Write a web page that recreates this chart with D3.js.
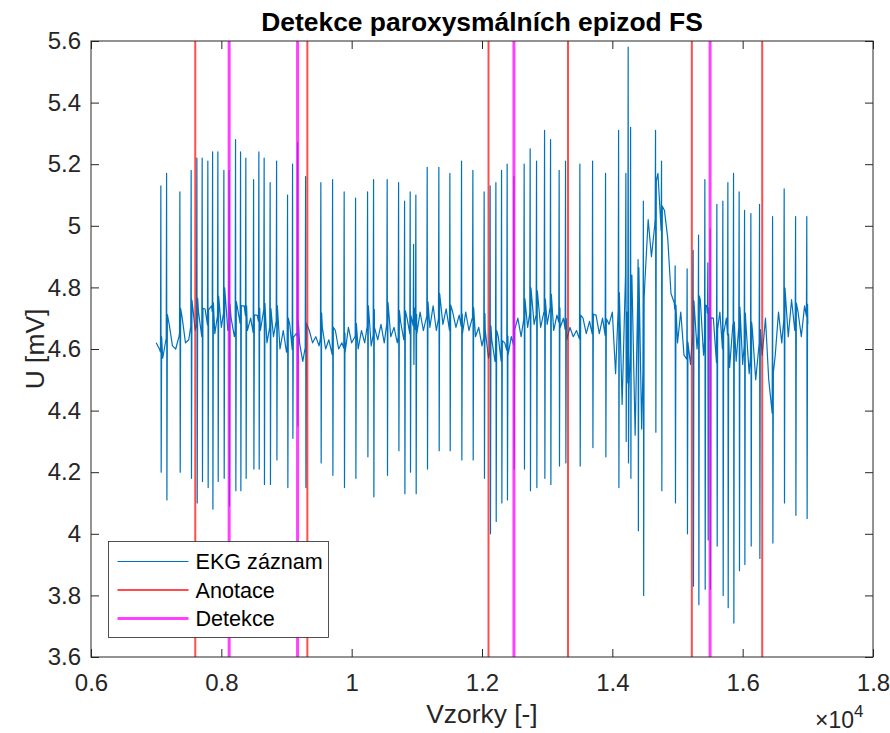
<!DOCTYPE html>
<html>
<head>
<meta charset="utf-8">
<script src="https://cdn.jsdelivr.net/npm/d3@7"></script>
<style>
  body { margin: 0; background: #fff; }
  svg { font-family: "Liberation Sans", Arial, Helvetica, sans-serif; }
</style>
</head>
<body>
<svg id="chart"></svg>
<script>
// beats: [sample, R peak (mV), S trough (mV)]
const beats = [
  [7074,5.13,4.20],[7162,5.17,4.11],[7366,5.11,4.20],[7539,5.18,4.18],[7627,5.22,4.10],
  [7708,5.22,4.17],[7795,5.21,4.15],[7868,5.24,4.08],[7949,5.24,4.17],[8041,5.18,4.18],
  [8122,5.18,4.09],[8220,5.28,4.14],[8297,5.24,4.14],[8378,5.22,4.18],[8497,5.15,4.21],
  [8578,5.24,4.21],[8659,5.22,4.16],[8751,5.14,4.16],[8850,5.21,4.24],[9018,5.10,4.15],
  [9095,5.20,4.31],[9172,5.27,4.35],[9295,5.16,4.15],[9529,5.14,4.23],[9709,5.15,4.19],
  [9887,5.11,4.15],[10062,5.09,4.18],[10246,5.11,4.25],[10338,5.15,4.12],[10547,5.15,4.19],
  [10722,5.14,4.27],[10814,5.08,4.13],[10900,5.11,4.20],[10952,4.94,4.55],[10987,5.10,4.13],
  [11161,5.19,4.21],[11340,5.19,4.27],[11509,5.17,4.27],[11688,5.21,4.24],[11862,5.18,4.24],
  [12035,5.11,4.18],[12127,5.13,4.00],[12215,5.14,4.04],[12302,5.18,4.10],[12388,5.20,4.11],
  [12491,5.16,4.21],[12649,5.20,4.21],[12741,5.25,4.14],[12839,5.21,4.15],[12962,5.31,4.18],
  [13054,5.28,4.16],[13186,5.18,4.22],[13284,5.21,4.23],[13504,5.20,4.22],[13699,5.21,4.28],
  [13898,5.17,4.25],[14098,5.31,4.15],[14210,5.17,4.30],[14245,5.58,4.23],[14282,5.32,4.18],
  [14397,4.89,4.01],[14478,5.08,3.80],[14665,5.31,4.33],[14757,5.21,4.14],[14966,4.87,4.10],
  [15150,4.86,4.00],[15242,4.92,3.83],[15325,4.97,3.77],[15422,5.15,3.82],[15468,4.88,3.98],
  [15503,4.99,3.82],[15606,5.07,3.96],[15698,5.08,3.80],[15775,5.14,3.76],[15862,5.17,3.71],
  [15948,5.11,3.88],[16031,5.05,3.90],[16128,5.04,3.96],[16261,5.07,3.92],[16461,5.03,3.97],
  [16639,5.12,4.10],[16814,5.03,4.06],[16986,5.03,4.05]
];

// baseline (fibrillation wave) between beats: [sample, mV]
const baseline = [
  [7000,4.62],[7050,4.60],[7100,4.57],[7150,4.63],[7200,4.68],[7250,4.61],[7300,4.60],[7350,4.64],
  [7400,4.70],[7450,4.62],[7500,4.63],[7550,4.70],[7600,4.66],[7650,4.72],[7700,4.64],[7750,4.73],
  [7800,4.66],[7850,4.74],[7900,4.65],[7950,4.72],[8000,4.67],[8050,4.74],[8100,4.66],[8150,4.70],
  [8200,4.64],[8250,4.73],[8300,4.67],[8350,4.74],[8400,4.66],[8450,4.70],[8500,4.64],[8550,4.71],
  [8600,4.66],[8650,4.73],[8700,4.62],[8750,4.68],[8800,4.64],[8850,4.70],[8900,4.60],[8950,4.66],
  [9000,4.59],[9050,4.68],[9100,4.57],[9150,4.65],[9200,4.62],[9250,4.56],[9300,4.62],[9350,4.66],
  [9400,4.62],[9450,4.64],[9500,4.61],[9550,4.67],[9600,4.60],[9650,4.63],[9700,4.58],[9750,4.66],
  [9800,4.60],[9850,4.62],[9900,4.59],[9950,4.67],[10000,4.62],[10050,4.64],[10100,4.60],[10150,4.66],
  [10200,4.62],[10250,4.69],[10300,4.61],[10350,4.67],[10400,4.63],[10450,4.68],[10500,4.62],[10550,4.70],
  [10600,4.64],[10650,4.67],[10700,4.62],[10750,4.69],[10800,4.63],[10850,4.70],[10900,4.64],[10950,4.68],
  [11000,4.65],[11050,4.72],[11100,4.66],[11150,4.71],[11200,4.67],[11250,4.74],[11300,4.66],[11350,4.72],
  [11400,4.68],[11450,4.73],[11500,4.66],[11550,4.72],[11600,4.67],[11650,4.71],[11700,4.65],[11750,4.72],
  [11800,4.66],[11850,4.70],[11900,4.64],[11950,4.67],[12000,4.61],[12050,4.66],[12100,4.57],[12150,4.63],
  [12200,4.56],[12250,4.64],[12300,4.55],[12350,4.62],[12400,4.58],[12450,4.64],[12500,4.60],[12550,4.70],
  [12600,4.64],[12650,4.71],[12700,4.67],[12750,4.74],[12800,4.68],[12850,4.73],[12900,4.67],[12950,4.72],
  [13000,4.68],[13050,4.74],[13100,4.66],[13150,4.71],[13200,4.67],[13250,4.70],[13300,4.63],[13350,4.67],
  [13400,4.64],[13450,4.66],[13500,4.63],[13550,4.70],[13600,4.65],[13650,4.69],[13700,4.64],[13750,4.71],
  [13800,4.65],[13850,4.70],[13900,4.63],[13950,4.68],
  [14000,4.72],[14050,4.52],[14100,4.78],[14150,4.42],[14200,4.86],[14250,4.36],[14300,4.84],
  [14350,4.32],[14400,4.88],[14450,4.34],[14500,4.82],[14550,5.02],[14600,4.90],[14650,5.00],
  [14700,5.17],[14750,4.98],[14800,5.05],[14850,4.96],[14900,4.78],[14950,4.75],[15000,4.62],
  [15050,4.72],[15100,4.58],[15200,4.55],[15250,4.70],[15300,4.60],[15350,4.76],[15400,4.58],
  [15450,4.74],[15500,4.62],[15550,4.70],[15600,4.55],[15650,4.72],[15700,4.57],[15750,4.70],[15800,4.54],
  [15850,4.68],[15900,4.56],[15950,4.70],[16000,4.55],[16050,4.68],[16100,4.52],[16150,4.66],
  [16200,4.50],[16250,4.62],[16300,4.58],[16350,4.70],[16400,4.50],[16450,4.38],[16500,4.58],
  [16550,4.72],[16600,4.62],[16650,4.74],[16700,4.64],[16750,4.76],[16800,4.66],[16850,4.72],
  [16900,4.64],[16950,4.74],[17000,4.68]
];

const annotations = [7600, 9320, 12100, 13320, 15220, 16300];
const detections = [8120, 9170, 12490, 15500];

const xTicks = [6000, 8000, 10000, 12000, 14000, 16000, 18000];
const xTickLabels = ['0.6', '0.8', '1', '1.2', '1.4', '1.6', '1.8'];
const yTicks = [3.6, 3.8, 4.0, 4.2, 4.4, 4.6, 4.8, 5.0, 5.2, 5.4, 5.6];
const yTickLabels = ['3.6', '3.8', '4', '4.2', '4.4', '4.6', '4.8', '5', '5.2', '5.4', '5.6'];

const width = 890, height = 733;
const margin = {top: 41, right: 17, bottom: 76, left: 91};
const w = width - margin.left - margin.right;
const h = height - margin.top - margin.bottom;
const ink = '#262626';

const svg = d3.select('#chart').attr('width', width).attr('height', height);
const g = svg.append('g').attr('transform', 'translate(' + margin.left + ',' + margin.top + ')');

const x = d3.scaleLinear().domain([6000, 18000]).range([0, w]);
const y = d3.scaleLinear().domain([3.6, 5.6]).range([h, 0]);
const base = d3.scaleLinear().domain(baseline.map(d => d[0])).range(baseline.map(d => d[1]));

// trace = baseline points plus a sharp R/S spike for each beat
let pts = baseline.filter(b => !beats.some(d => Math.abs(b[0] - d[0]) < 12));
beats.forEach(d => {
  pts.push([d[0] - 8, base(d[0] - 8)]);
  pts.push([d[0] - 2, d[1]]);
  pts.push([d[0] + 3, d[2]]);
  pts.push([Math.min(d[0] + 10, 17000), base(d[0] + 10) + 0.06]);
});
pts.sort((a, b) => a[0] - b[0]);

g.append('path')
  .datum(pts)
  .attr('fill', 'none')
  .attr('stroke', '#0072BD')
  .attr('stroke-width', 1.2)
  .attr('stroke-linejoin', 'round')
  .attr('d', d3.line().x(d => x(d[0])).y(d => y(d[1])));

// annotation and detection markers
g.selectAll('.anot')
  .data(annotations)
  .enter().append('line')
  .attr('x1', d => x(d)).attr('x2', d => x(d))
  .attr('y1', 0).attr('y2', h)
  .attr('stroke', '#ff0000').attr('stroke-opacity', 0.7).attr('stroke-width', 2);

g.selectAll('.det')
  .data(detections)
  .enter().append('line')
  .attr('x1', d => x(d)).attr('x2', d => x(d))
  .attr('y1', 0).attr('y2', h)
  .attr('stroke', '#ff00ff').attr('stroke-opacity', 0.75).attr('stroke-width', 3);

// axes, MATLAB style: ticks inside on all four sides
function styleAxis(sel) {
  sel.select('.domain').remove();
  sel.selectAll('line').attr('stroke', ink);
  sel.selectAll('text').attr('fill', ink).style('font-size', '24px');
  sel.attr('font-family', null);
}
g.append('g')
  .attr('transform', 'translate(0,' + h + ')')
  .call(d3.axisBottom(x).tickValues(xTicks).tickFormat((d, i) => xTickLabels[i]).tickSize(-8).tickPadding(17))
  .call(styleAxis);
g.append('g')
  .call(d3.axisTop(x).tickValues(xTicks).tickFormat('').tickSize(-8))
  .call(styleAxis);
g.append('g')
  .call(d3.axisLeft(y).tickValues(yTicks).tickFormat((d, i) => yTickLabels[i]).tickSize(-8).tickPadding(10))
  .call(styleAxis);
g.append('g')
  .attr('transform', 'translate(' + w + ',0)')
  .call(d3.axisRight(y).tickValues(yTicks).tickFormat('').tickSize(-8))
  .call(styleAxis);

g.append('rect')
  .attr('x', 0).attr('y', 0).attr('width', w).attr('height', h)
  .attr('fill', 'none').attr('stroke', ink).attr('stroke-width', 1);

// labels
svg.append('text')
  .attr('x', margin.left + w / 2).attr('y', 31)
  .attr('text-anchor', 'middle').attr('font-weight', 'bold')
  .style('font-size', '26.4px').attr('fill', '#000')
  .text('Detekce paroxysmálních epizod FS');

svg.append('text')
  .attr('x', margin.left + w / 2).attr('y', 723)
  .attr('text-anchor', 'middle').style('font-size', '26.4px').attr('fill', ink)
  .text('Vzorky [-]');

svg.append('text')
  .attr('transform', 'translate(44,' + (margin.top + h / 2) + ') rotate(-90)')
  .attr('text-anchor', 'middle').style('font-size', '26.4px').attr('fill', ink)
  .text('U [mV]');

const expo = svg.append('text')
  .attr('x', 815).attr('y', 728).style('font-size', '23px').attr('fill', ink);
expo.append('tspan').text('×10');
expo.append('tspan').attr('dy', -11).style('font-size', '17px').text('4');

// legend
const legendItems = [
  {name: 'EKG záznam', color: '#0072BD', width: 1.2, opacity: 1},
  {name: 'Anotace', color: '#ff0000', width: 2, opacity: 0.7},
  {name: 'Detekce', color: '#ff00ff', width: 3, opacity: 0.75}
];
const lg = svg.append('g').attr('transform', 'translate(108.5,541.5)');
lg.append('rect')
  .attr('width', 220).attr('height', 96)
  .attr('fill', '#fff').attr('stroke', ink).attr('stroke-width', 0.8);
legendItems.forEach((d, i) => {
  const yy = 20 + i * 28.5;
  lg.append('line')
    .attr('x1', 9).attr('x2', 80).attr('y1', yy).attr('y2', yy)
    .attr('stroke', d.color).attr('stroke-width', d.width).attr('stroke-opacity', d.opacity);
  lg.append('text')
    .attr('x', 87).attr('y', yy).attr('dy', '0.35em')
    .style('font-size', '21.6px').attr('fill', '#000')
    .text(d.name);
});
</script>
</body>
</html>
